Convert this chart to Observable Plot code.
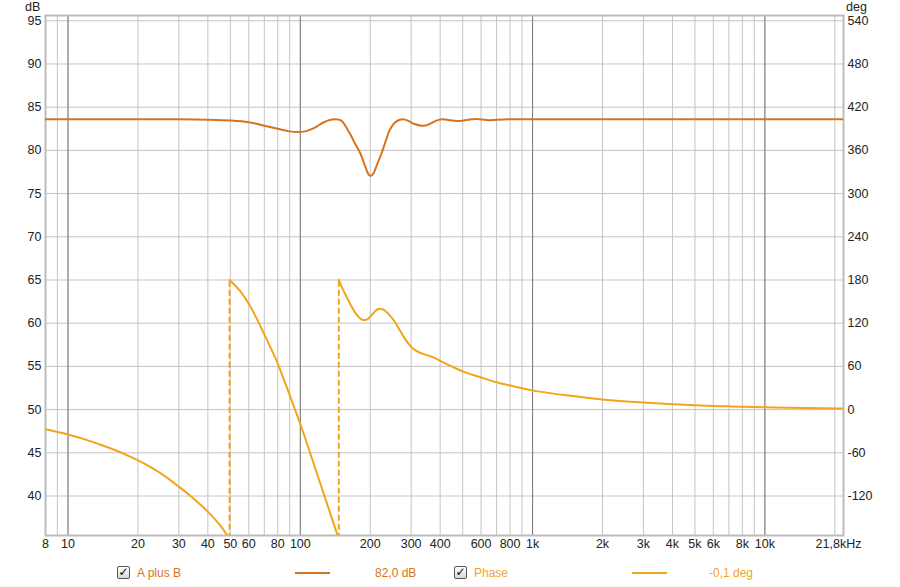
<!DOCTYPE html>
<html><head><meta charset="utf-8">
<script src="https://cdn.jsdelivr.net/npm/d3@7"></script>
<script src="https://cdn.jsdelivr.net/npm/@observablehq/plot@0.6"></script>
<style>
body{margin:0;background:#fff;font-family:"Liberation Sans",Arial,sans-serif;}
#wrap{position:relative;width:900px;height:587px;overflow:hidden;}
.lbl{position:absolute;font-size:12.5px;color:#222;}
.leg{position:absolute;top:565px;font-size:12px;line-height:16px;white-space:nowrap;}
.cb{position:absolute;top:566px;width:11px;height:11px;border:1px solid #555;border-radius:2px;background:linear-gradient(#fff,#d8d8d8);font-family:"DejaVu Sans",sans-serif;font-size:12px;line-height:11px;text-align:center;color:#000;font-weight:bold;}
.sw{position:absolute;top:572px;height:2px;width:35px;}
</style></head><body><div id="wrap"></div>
<script>
// Frequency response (A plus B), dB
const splFreq = [8, 20, 30, 40, 50, 60, 70, 80, 90, 97, 105, 115, 125, 135, 141, 150, 163, 172, 181, 190, 197, 201, 206, 215, 224, 234, 243, 255, 268, 277, 290, 310, 338, 360, 385, 410, 440, 486, 540, 574, 650, 750, 900, 1200, 21800];
const splDb   = [83.6, 83.6, 83.6, 83.55, 83.45, 83.25, 82.85, 82.5, 82.2, 82.12, 82.2, 82.6, 83.2, 83.55, 83.6, 83.45, 82.0, 80.8, 79.7, 78.2, 77.2, 77.05, 77.3, 78.5, 79.7, 81.2, 82.4, 83.2, 83.55, 83.6, 83.45, 83.05, 82.84, 83.05, 83.45, 83.6, 83.5, 83.4, 83.58, 83.63, 83.5, 83.58, 83.6, 83.6, 83.6];

// Phase (deg), three wrapped segments
const phase1Freq = [8, 9, 10, 12, 14, 16, 18, 20, 23, 26, 30, 34, 38, 42, 46, 49.6];
const phase1Deg  = [-27.3, -31, -34.5, -42, -49.5, -56.5, -63.5, -70.5, -81, -92, -107, -121, -135, -149, -164, -180];
const phase2Freq = [49.6, 55, 60, 65, 70, 75, 80, 90, 100, 120, 146.5];
const phase2Deg  = [180, 165, 147, 126, 104.5, 84, 64, 20, -20, -96, -180];
const phase3Freq = [146.5, 152, 158, 165, 172, 179, 186, 193, 200, 209, 218, 227, 236, 245, 255, 265, 280, 295, 306, 320, 340, 360, 380, 410, 455, 520, 593, 700, 850, 996, 1400, 2000, 3000, 5000, 7000, 10000, 15000, 21800];
const phase3Deg  = [180, 168, 157, 145, 135, 128, 124.5, 125, 129, 136, 140, 139, 135, 129.5, 122, 113, 100, 90, 84.5, 80.5, 77, 74.5, 71.5, 66, 59, 51, 45.2, 38, 31.5, 26.7, 19.8, 13.9, 9.7, 6, 4.5, 3.2, 2.1, 1.4];
const wrapFreqs = [49.6, 146.5];

// Axes / grid
const dbTicks = [40, 45, 50, 55, 60, 65, 70, 75, 80, 85, 90, 95];
const degTicks = [-120, -60, 0, 60, 120, 180, 240, 300, 360, 420, 480, 540];
const gridFreqs = [8, 9, 10, 20, 30, 40, 50, 60, 70, 80, 90, 100, 200, 300, 400, 500, 600, 700, 800, 900, 1000, 2000, 3000, 4000, 5000, 6000, 7000, 8000, 9000, 10000, 20000];
const decadeFreqs = [10, 100, 1000, 10000];
const xTickFreqs = [8, 10, 20, 30, 40, 50, 60, 80, 100, 200, 300, 400, 600, 800, 1000, 2000, 3000, 4000, 5000, 6000, 8000, 10000];
const xTickLabels = ["8", "10", "20", "30", "40", "50", "60", "80", "100", "200", "300", "400", "600", "800", "1k", "2k", "3k", "4k", "5k", "6k", "8k", "10k"];
const xEndFreq = 21800;
const xEndLabel = "21,8kHz";

const SPL_COLOR = "#D9731B";
const PH_COLOR = "#F2A51C";
const FONT = 12.5;

const degToY = d => 50 + d / 12;
const seg = (fs, ds) => fs.map((f, i) => ({f, y: degToY(ds[i])}));
const splData = splFreq.map((f, i) => ({f, y: splDb[i]}));

const chart = Plot.plot({
  width: 900, height: 560,
  marginLeft: 45, marginRight: 57, marginTop: 15, marginBottom: 25,
  style: {fontFamily: "'Liberation Sans', Arial, sans-serif", fontSize: FONT + "px", color: "#222", background: "#fff"},
  x: {type: "log", domain: [8, 21800], axis: null},
  y: {domain: [35.43, 95.61], axis: null},
  marks: [
    Plot.ruleY(dbTicks, {stroke: "#c4c4c4", strokeWidth: 1}),
    Plot.ruleX(gridFreqs, {stroke: "#c4c4c4", strokeWidth: 1}),
    Plot.ruleX(decadeFreqs, {stroke: "#7a7a7a", strokeWidth: 1}),
    Plot.frame({stroke: "#bcbcbc", strokeWidth: 2}),
    Plot.axisY(dbTicks, {anchor: "left", tickSize: 0, tickPadding: 4, label: null, fontSize: FONT}),
    Plot.axisY(degTicks.map(degToY), {anchor: "right", tickSize: 0, tickPadding: 4, label: null, fontSize: FONT,
      tickFormat: v => String(Math.round((v - 50) * 12))}),
    Plot.text(xTickFreqs, {x: d => d, frameAnchor: "bottom", text: (d, i) => xTickLabels[i], dy: 12, fontSize: FONT, fill: "#222"}),
    Plot.text([xEndFreq], {x: d => d, frameAnchor: "bottom", text: () => xEndLabel, dy: 12, dx: -5, fontSize: FONT, fill: "#222"}),
    Plot.ruleX(wrapFreqs, {y1: degToY(-180), y2: degToY(180), stroke: PH_COLOR, strokeWidth: 2, strokeDasharray: "6,3", clip: true}),
    Plot.line(seg(phase1Freq, phase1Deg), {x: "f", y: "y", stroke: PH_COLOR, strokeWidth: 2, curve: "catmull-rom", clip: true}),
    Plot.line(seg(phase2Freq, phase2Deg), {x: "f", y: "y", stroke: PH_COLOR, strokeWidth: 2, curve: "catmull-rom", clip: true}),
    Plot.line(seg(phase3Freq, phase3Deg), {x: "f", y: "y", stroke: PH_COLOR, strokeWidth: 2, curve: "catmull-rom", clip: true}),
    Plot.line(splData, {x: "f", y: "y", stroke: SPL_COLOR, strokeWidth: 2, curve: "catmull-rom", clip: true})
  ]
});

const wrap = document.getElementById("wrap");
wrap.appendChild(chart);
const add = (html) => wrap.insertAdjacentHTML("beforeend", html);
add('<div class="lbl" style="left:25px;top:0px;">dB</div>');
add('<div class="lbl" style="left:846px;top:0px;">deg</div>');
add('<div class="cb" style="left:117px;">✓</div>');
add(`<div class="leg" style="left:137px;color:${SPL_COLOR};">A plus B</div>`);
add(`<div class="sw" style="left:295px;background:${SPL_COLOR};"></div>`);
add(`<div class="leg" style="left:375px;color:${SPL_COLOR};">82,0 dB</div>`);
add('<div class="cb" style="left:454px;">✓</div>');
add(`<div class="leg" style="left:474px;color:${PH_COLOR};">Phase</div>`);
add(`<div class="sw" style="left:632px;background:${PH_COLOR};"></div>`);
add(`<div class="leg" style="left:709px;color:${PH_COLOR};">-0,1 deg</div>`);
</script>
</body></html>
